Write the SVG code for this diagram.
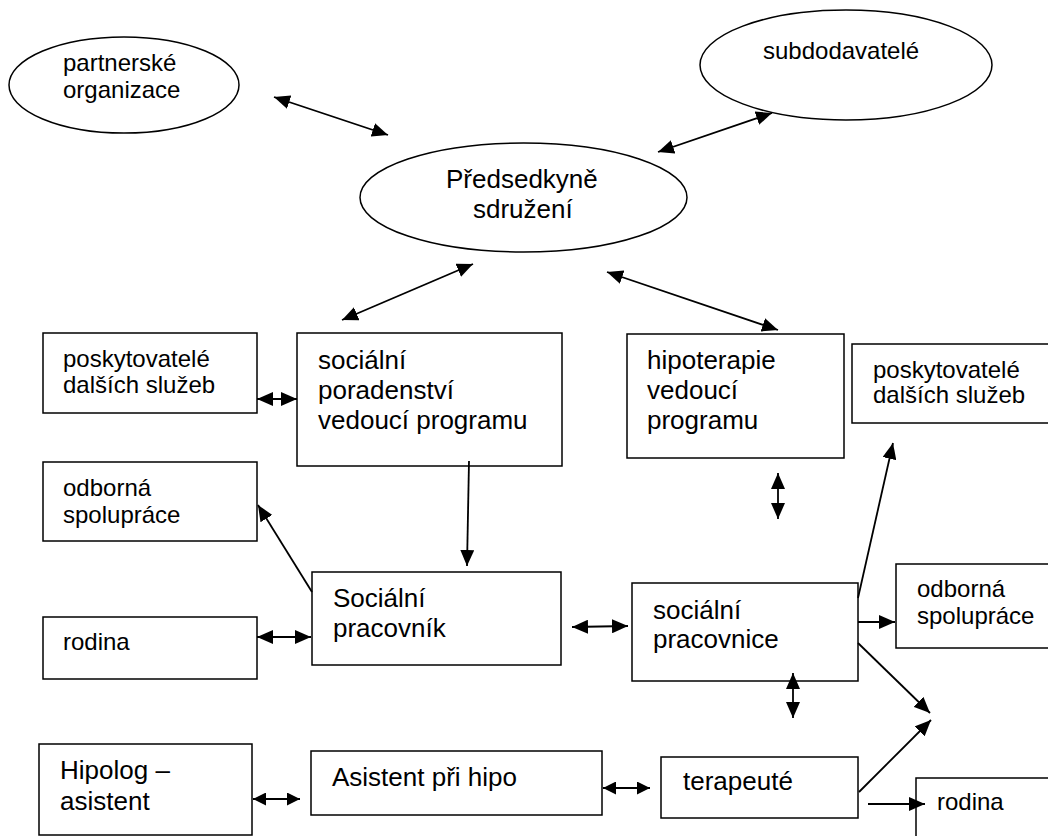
<svg xmlns="http://www.w3.org/2000/svg" width="1048" height="836" viewBox="0 0 1048 836">
<style>
  .shape { fill: #ffffff; stroke: #000000; stroke-width: 1.5; }
  .t24 { font-family: "Liberation Sans", Arial, sans-serif; font-size: 24px; fill: #000000; }
  .t26 { font-family: "Liberation Sans", Arial, sans-serif; font-size: 26px; fill: #000000; }
  .c { stroke: #000000; stroke-width: 1.8; fill: none; }
  .bi { marker-start: url(#ah); marker-end: url(#ah); }
  .uni { marker-end: url(#ah); }
  .bis { marker-start: url(#ahs); marker-end: url(#ahs); }
</style>
<defs>
  <marker id="ah" viewBox="0 0 16 14" refX="16" refY="7" markerWidth="16" markerHeight="14" markerUnits="userSpaceOnUse" orient="auto-start-reverse">
    <path d="M0,0 L16,7 L0,14 z" fill="#000000"/>
  </marker>
  <marker id="ahs" viewBox="0 0 13 13" refX="13" refY="6.5" markerWidth="13" markerHeight="13" markerUnits="userSpaceOnUse" orient="auto-start-reverse">
    <path d="M0,0 L13,6.5 L0,13 z" fill="#000000"/>
  </marker>
</defs>
<rect x="0" y="0" width="1048" height="836" fill="#ffffff"/>

<g id="partnerske">
  <ellipse class="shape" cx="124" cy="85" rx="115" ry="48"/>
  <text class="t24" x="63" y="71">partnerské</text>
  <text class="t24" x="63" y="98">organizace</text>
</g>
<g id="subdodavatele">
  <ellipse class="shape" cx="846" cy="65" rx="146" ry="55"/>
  <text class="t24" x="763" y="59">subdodavatelé</text>
</g>
<g id="predsedkyne">
  <ellipse class="shape" cx="523.5" cy="197.5" rx="163.5" ry="54.5"/>
  <text class="t26" x="446" y="188">Předsedkyně</text>
  <text class="t26" x="473" y="218">sdružení</text>
</g>
<g id="poskytovatele-left">
  <rect class="shape" x="43" y="333" width="214" height="80"/>
  <text class="t24" x="63" y="367">poskytovatelé</text>
  <text class="t24" x="63" y="393">dalších služeb</text>
</g>
<g id="socialni-poradenstvi">
  <rect class="shape" x="297" y="333" width="265" height="133"/>
  <text class="t26" x="318" y="369">sociální</text>
  <text class="t26" x="318" y="399">poradenství</text>
  <text class="t26" x="318" y="429">vedoucí programu</text>
</g>
<g id="hipoterapie">
  <rect class="shape" x="627" y="334" width="217" height="124"/>
  <text class="t26" x="647" y="369">hipoterapie</text>
  <text class="t26" x="647" y="399">vedoucí</text>
  <text class="t26" x="647" y="429">programu</text>
</g>
<g id="poskytovatele-right">
  <rect class="shape" x="852" y="344" width="202" height="79"/>
  <text class="t24" x="873" y="378">poskytovatelé</text>
  <text class="t24" x="873" y="403">dalších služeb</text>
</g>
<g id="odborna-left">
  <rect class="shape" x="43" y="462" width="214" height="79"/>
  <text class="t24" x="63" y="496">odborná</text>
  <text class="t24" x="63" y="523">spolupráce</text>
</g>
<g id="rodina-left">
  <rect class="shape" x="43" y="617" width="214" height="62"/>
  <text class="t24" x="63" y="650">rodina</text>
</g>
<g id="socialni-pracovnik">
  <rect class="shape" x="312" y="572" width="249" height="93"/>
  <text class="t26" x="333" y="607">Sociální</text>
  <text class="t26" x="333" y="637">pracovník</text>
</g>
<g id="socialni-pracovnice">
  <rect class="shape" x="632" y="583" width="226" height="98"/>
  <text class="t26" x="653" y="619">sociální</text>
  <text class="t26" x="653" y="648">pracovnice</text>
</g>
<g id="odborna-right">
  <rect class="shape" x="896" y="564" width="158" height="84"/>
  <text class="t24" x="917" y="597">odborná</text>
  <text class="t24" x="917" y="624">spolupráce</text>
</g>
<g id="hipolog">
  <rect class="shape" x="39" y="744" width="213" height="91"/>
  <text class="t26" x="60" y="779">Hipolog –</text>
  <text class="t26" x="60" y="810">asistent</text>
</g>
<g id="asistent">
  <rect class="shape" x="311" y="751" width="291" height="64"/>
  <text class="t26" x="332" y="786">Asistent při hipo</text>
</g>
<g id="terapeute">
  <rect class="shape" x="661" y="757" width="197" height="61"/>
  <text class="t26" x="683" y="790">terapeuté</text>
</g>
<g id="rodina-right">
  <rect class="shape" x="916" y="778" width="138" height="70"/>
  <text class="t24" x="937" y="810">rodina</text>
</g>

<g id="connectors">
  <line class="c bi" x1="274" y1="97" x2="388" y2="135"/>
  <line class="c bi" x1="658" y1="152" x2="772" y2="113"/>
  <line class="c bi" x1="473" y1="264" x2="342" y2="320"/>
  <line class="c bi" x1="607" y1="272" x2="778" y2="330"/>
  <line class="c bi" x1="257" y1="399" x2="297" y2="399"/>
  <line class="c uni" x1="469" y1="461" x2="467" y2="566"/>
  <line class="c uni" x1="312" y1="592" x2="258" y2="505"/>
  <line class="c bi" x1="257" y1="637" x2="311" y2="637"/>
  <line class="c bi" x1="572" y1="627" x2="628" y2="626"/>
  <line class="c bi" x1="778" y1="473" x2="778" y2="519"/>
  <line class="c uni" x1="858" y1="598" x2="893" y2="443"/>
  <line class="c uni" x1="858" y1="622" x2="895" y2="622"/>
  <line class="c uni" x1="858" y1="643" x2="930" y2="713"/>
  <line class="c bi" x1="793" y1="673" x2="793" y2="718"/>
  <line class="c uni" x1="859" y1="792" x2="931" y2="720"/>
  <line class="c bis" x1="253" y1="799" x2="300" y2="799"/>
  <line class="c bis" x1="603" y1="788" x2="650" y2="788"/>
  <line class="c uni" x1="868" y1="804" x2="925" y2="804"/>
</g>
</svg>
